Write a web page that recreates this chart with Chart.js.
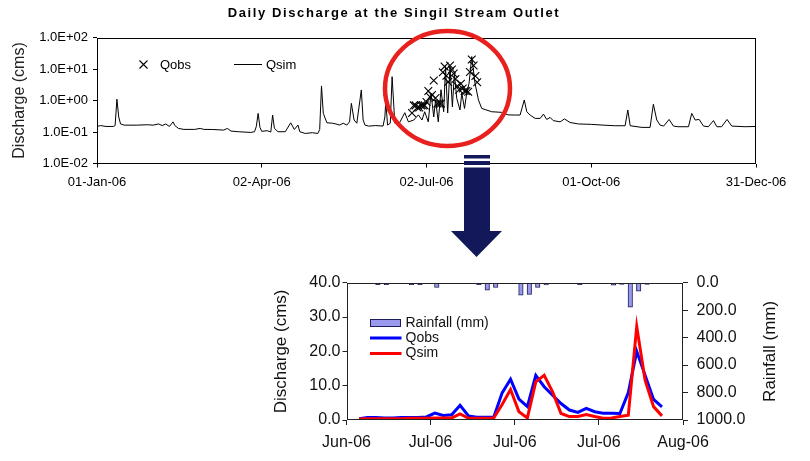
<!DOCTYPE html>
<html><head><meta charset="utf-8">
<script src="https://cdn.jsdelivr.net/npm/chart.js@4.4.1/dist/chart.umd.min.js"></script>
<style>
html,body{margin:0;padding:0;background:#fff;}
#wrap{position:relative;width:810px;height:461px;overflow:hidden;background:#fff;}
#c1{position:absolute;left:0;top:0;}
#c2{position:absolute;left:260px;top:255px;}
#ov{position:absolute;left:0;top:0;pointer-events:none;}
</style></head><body>
<div id="wrap">
<canvas id="c1" width="810" height="200"></canvas>
<canvas id="c2" width="550" height="206"></canvas>
<canvas id="ov" width="810" height="461"></canvas>
</div>
<script>
const FONT = "'Liberation Sans', Arial, Helvetica, sans-serif";

// ---------- Top chart data (day of year 2006, 0 = 01-Jan) ----------
const yearTickDays = [0, 91, 182, 273, 364];
const yearTickLabels = ['01-Jan-06', '02-Apr-06', '02-Jul-06', '01-Oct-06', '31-Dec-06'];
const logTickValues = [0.01, 0.1, 1, 10, 100];

const qsimDays = [0,2,5,9,10,11,12,13,15,22,28,31,34,36,38,40,42,43,45,48,54,57,59,64,70,72,74,78,85,87,88,89,90,91,94,96,97,98,100,104,107,109,111,112,115,119,122,123,124,125,127,130,132,134,136,138,139.5,140.5,142,143.5,146,147,148,150,154,158,159,159.5,160.5,162,163,164.5,167,170,172,175,177.5,179.5,181,183,184.5,186,187,188.5,190,191.5,192.5,193.7,195,196.3,197.4,198.7,200.5,201.5,203,204.2,205.5,207,208.8,210.7,212.5,218,223.5,227,231,233.7,236,237.4,239.2,242,244.8,246.6,248.4,250.3,252,255.8,258.2,261.3,266,273,279,286,291.7,293.2,294.5,301,305.5,307.3,309.2,311,313,316,318.4,321,326.7,328.5,330.4,332.6,335,337.7,340.5,342.4,345,348,350.6,358,364];
const qsimValues = [0.15,0.16,0.15,0.15,0.16,1.1,0.3,0.18,0.165,0.165,0.17,0.165,0.18,0.16,0.18,0.15,0.21,0.16,0.13,0.121,0.121,0.13,0.121,0.12,0.115,0.13,0.107,0.102,0.097,0.102,0.15,0.39,0.14,0.105,0.11,0.10,0.345,0.13,0.102,0.102,0.196,0.12,0.166,0.102,0.09,0.095,0.09,0.12,2.9,0.39,0.196,0.19,0.18,0.166,0.19,0.166,0.21,0.81,0.24,0.19,2.16,0.24,0.166,0.154,0.16,0.154,0.3,0.92,0.166,0.19,5.7,0.19,0.19,0.41,0.21,0.24,0.35,0.24,0.44,0.21,1.7,0.3,1.04,0.21,2.2,0.44,11.9,0.4,11.9,0.63,7.3,1.17,0.5,1.7,0.56,1.7,3.5,24.8,3.5,1.04,0.56,0.44,0.42,0.35,0.345,0.345,1.04,0.44,0.345,0.27,0.27,0.37,0.25,0.29,0.23,0.21,0.26,0.2,0.18,0.175,0.166,0.158,0.158,0.5,0.158,0.14,0.14,0.76,0.24,0.166,0.154,0.25,0.154,0.147,0.147,0.39,0.24,0.25,0.154,0.147,0.23,0.147,0.147,0.25,0.154,0.147,0.15];

// ---------- Observed period (shared by both charts) ----------
const obsDays = [174,175,176,177,178,179,180,181,182,183,184,185,186,187,188,189,190,191,192,193,194,195,196,197,198,199,200,201,202,203,204,205,206,207,208,209,210];
const qobsValues = [0.4,0.7,0.7,0.6,0.6,0.7,0.7,0.7,0.9,2.0,1.3,1.5,4.3,1.2,0.8,0.8,0.8,7.9,11.9,6.1,3.9,13.0,9.7,7.2,4.8,2.9,2.2,3.4,2.4,2.0,2.0,1.9,8.0,20.0,13.0,6.0,3.8];
const qsimPeriodValues = [0.3,0.4,0.4,0.4,0.4,0.4,0.5,0.5,0.5,0.6,0.6,0.6,1.8,0.5,0.5,0.5,0.6,4.5,8.9,2.4,0.6,11.1,13.0,8.2,1.9,1.0,1.0,1.6,1.0,0.5,0.6,1.0,1.4,27.2,11.5,3.9,1.2];
const rainDays = [176,177,180,181,183,188,189,190,193,194,195,196,200,204,205,206,207,208];
const rainValues = [15,15,15,15,35,15,55,35,90,85,35,16,15,18,13,178,62,13];
const zoomTickDays = [172.5, 182.5, 192.5, 202.5, 212.5];
const zoomTickLabels = ['Jun-06', 'Jul-06', 'Jul-06', 'Jul-06', 'Aug-06'];

function expLabel(v) {
  const e = Math.round(Math.log10(v));
  return '1.0E' + (e < 0 ? '-' : '+') + String(Math.abs(e)).padStart(2, '0');
}
function framePlugin(color) {
  return { id: 'frame', afterDatasetsDraw(chart) {
    const a = chart.chartArea, c = chart.ctx;
    c.save(); c.strokeStyle = color; c.lineWidth = 1;
    const l = Math.round(a.left) + 0.5, t = Math.round(a.top) + 0.5;
    const r = Math.round(a.right) - 0.5, b = Math.round(a.bottom) - 0.5;
    c.strokeRect(l, t, r - l, b - t);
    c.restore();
  }};
}

// ---------- Top chart ----------
const topDecor = { id: 'topDecor', afterDraw(chart) {
  const c = chart.ctx;
  c.save();
  c.fillStyle = '#000';
  c.font = 'bold 13px ' + FONT;
  c.textAlign = 'center'; c.textBaseline = 'middle';
  try { c.letterSpacing = '1.6px'; } catch (e) {}
  c.fillText('Daily Discharge at the Singil Stream Outlet', 394, 13);
  try { c.letterSpacing = '0px'; } catch (e) {}
  // legend
  c.strokeStyle = '#000'; c.lineWidth = 1.1;
  const mx = 143.5, my = 64.5, h = 4;
  c.beginPath(); c.moveTo(mx - h, my - h); c.lineTo(mx + h, my + h);
  c.moveTo(mx - h, my + h); c.lineTo(mx + h, my - h); c.stroke();
  c.font = '13px ' + FONT; c.textAlign = 'left';
  c.fillText('Qobs', 160, 65);
  c.lineWidth = 1;
  c.beginPath(); c.moveTo(234, 64.5); c.lineTo(262, 64.5); c.stroke();
  c.fillText('Qsim', 266, 65);
  c.restore();
}};

new Chart(document.getElementById('c1'), {
  type: 'line',
  data: { datasets: [
    { label: 'Qobs', type: 'line', showLine: false,
      data: obsDays.map((d, i) => ({ x: d, y: qobsValues[i] })),
      pointStyle: 'crossRot', pointRadius: 5.5, borderColor: '#000', backgroundColor: '#000', borderWidth: 1.1, order: 1 },
    { label: 'Qsim', type: 'line',
      data: qsimDays.map((d, i) => ({ x: d, y: qsimValues[i] })),
      borderColor: '#000', borderWidth: 1, pointRadius: 0, tension: 0, fill: false, order: 2 }
  ]},
  options: {
    responsive: false, animation: false, events: [],
    layout: { padding: { top: 37.5, right: 54, left: 0, bottom: 0 } },
    plugins: { legend: { display: false }, tooltip: { enabled: false }, title: { display: false } },
    scales: {
      x: { type: 'linear', min: 0, max: 364,
        afterBuildTicks: s => { s.ticks = yearTickDays.map(v => ({ value: v })); },
        afterFit: s => { s.height = 36.5; },
        ticks: { callback: v => { const i = yearTickDays.indexOf(v); return i >= 0 ? yearTickLabels[i] : ''; },
          font: { size: 13, family: FONT }, color: '#000', maxRotation: 0, autoSkip: false, padding: 7 },
        grid: { drawOnChartArea: false, tickLength: 4, color: '#000' },
        border: { display: false } },
      y: { type: 'logarithmic', min: 0.01, max: 100,
        afterBuildTicks: s => { s.ticks = logTickValues.map(v => ({ value: v })); },
        afterFit: s => { s.width = 97; },
        ticks: { callback: v => expLabel(v), font: { size: 13, family: FONT }, color: '#000', padding: 5 },
        grid: { drawOnChartArea: false, tickLength: 4, color: '#000' },
        border: { display: false },
        title: { display: true, text: 'Discharge (cms)', font: { size: 16, family: FONT }, color: '#222', padding: { top: 10.4, bottom: 0 } } }
    }
  },
  plugins: [framePlugin('#000'), topDecor]
});

// ---------- Bottom chart ----------
const barFill = '#9999ee', barEdge = '#1d1d5a';
const bottomDecor = { id: 'bottomDecor', afterDraw(chart) {
  const c = chart.ctx;
  c.save();
  c.fillStyle = '#111'; c.textBaseline = 'middle'; c.textAlign = 'left';
  c.font = '14px ' + FONT;
  c.fillStyle = barFill; c.fillRect(110.5, 64.5, 30, 7);
  c.strokeStyle = barEdge; c.lineWidth = 1; c.strokeRect(110.5, 64.5, 30, 7);
  c.fillStyle = '#111';
  c.fillText('Rainfall (mm)', 145.5, 68);
  c.lineWidth = 3; c.strokeStyle = '#0000ff';
  c.beginPath(); c.moveTo(110, 83); c.lineTo(141.5, 83); c.stroke();
  c.fillText('Qobs', 145.5, 83);
  c.strokeStyle = '#ff0000';
  c.beginPath(); c.moveTo(110, 98.5); c.lineTo(141.5, 98.5); c.stroke();
  c.fillText('Qsim', 145.5, 98.5);
  // right axis title (reads bottom to top)
  const a = chart.chartArea;
  c.translate(510, (a.top + a.bottom) / 2);
  c.rotate(-Math.PI / 2);
  c.textAlign = 'center';
  c.font = '17px ' + FONT;
  c.fillText('Rainfall (mm)', 0, 0);
  c.restore();
}};

new Chart(document.getElementById('c2'), {
  type: 'line',
  data: { datasets: [
    { label: 'Rainfall (mm)', type: 'bar', xAxisID: 'x2', yAxisID: 'y2',
      data: rainDays.map((d, i) => ({ x: d, y: rainValues[i] })),
      backgroundColor: barFill, borderColor: barEdge, borderWidth: 1, barThickness: 4.5, order: 3 },
    { label: 'Qobs', type: 'line', xAxisID: 'x', yAxisID: 'y',
      data: obsDays.map((d, i) => ({ x: d, y: qobsValues[i] })),
      borderColor: '#0000ff', borderWidth: 3, pointRadius: 0, tension: 0, fill: false, order: 2 },
    { label: 'Qsim', type: 'line', xAxisID: 'x', yAxisID: 'y',
      data: obsDays.map((d, i) => ({ x: d, y: qsimPeriodValues[i] })),
      borderColor: '#ff0000', borderWidth: 3, pointRadius: 0, tension: 0, fill: false, order: 1 }
  ]},
  options: {
    responsive: false, animation: false, events: [],
    layout: { padding: { top: 27.7, right: 0, left: 0, bottom: 0 } },
    plugins: { legend: { display: false }, tooltip: { enabled: false }, title: { display: false } },
    scales: {
      x: { type: 'linear', position: 'bottom', min: 172.5, max: 212.5, offset: false,
        afterBuildTicks: s => { s.ticks = zoomTickDays.map(v => ({ value: v })); },
        afterFit: s => { s.height = 41; },
        ticks: { callback: v => { const i = zoomTickDays.indexOf(v); return i >= 0 ? zoomTickLabels[i] : ''; },
          font: { size: 16, family: FONT }, color: '#111', maxRotation: 0, autoSkip: false, padding: 8 },
        grid: { drawOnChartArea: false, tickLength: 5, color: '#222', offset: false },
        border: { display: false } },
      x2: { type: 'linear', display: false, min: 172, max: 212, offset: false, grid: { offset: false } },
      y: { type: 'linear', position: 'left', min: 0, max: 40,
        afterFit: s => { s.width = 86.5; },
        ticks: { stepSize: 10, callback: v => v.toFixed(1), font: { size: 16, family: FONT }, color: '#111', padding: 2 },
        grid: { drawOnChartArea: false, tickLength: 4, color: '#222' },
        border: { display: false },
        title: { display: true, text: 'Discharge (cms)', font: { size: 17, family: FONT }, color: '#111', padding: { top: 10.8, bottom: 0 } } },
      y2: { type: 'linear', position: 'right', min: 0, max: 1000, reverse: true,
        afterFit: s => { s.width = 127; },
        ticks: { stepSize: 200, callback: v => v.toFixed(1), font: { size: 16, family: FONT }, color: '#111', padding: 8.5 },
        grid: { drawOnChartArea: false, tickLength: 5, color: '#222' },
        border: { display: false } }
    }
  },
  plugins: [framePlugin('#222'), bottomDecor]
});

// ---------- Annotation overlay: red circle and navy arrow ----------
(function () {
  const c = document.getElementById('ov').getContext('2d');
  c.strokeStyle = '#e8201e'; c.lineWidth = 4.5;
  c.beginPath(); c.ellipse(447.5, 88.5, 62.5, 57.5, 0, 0, Math.PI * 2); c.stroke();
  c.fillStyle = '#12185a';
  c.fillRect(464, 155, 26, 3.5);
  c.fillRect(464, 161, 26, 4);
  c.fillRect(464, 167.5, 26, 64);
  c.beginPath(); c.moveTo(451, 231); c.lineTo(502, 231); c.lineTo(476.5, 257); c.closePath(); c.fill();
})();
</script>
</body></html>
